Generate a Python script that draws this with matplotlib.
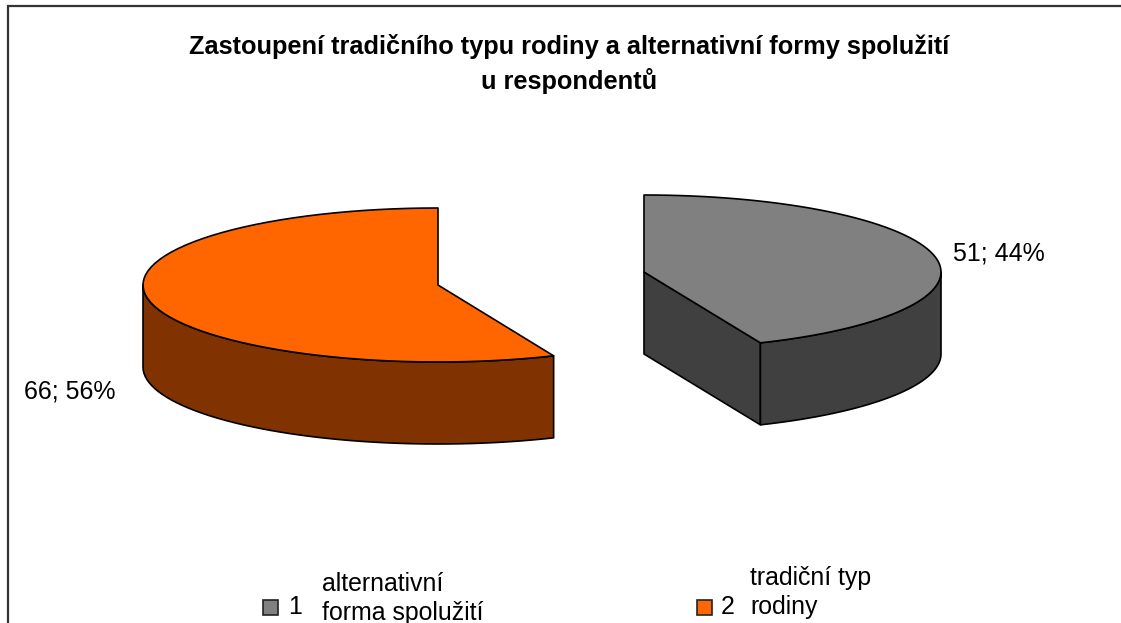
import numpy as np
from matplotlib import pyplot as plt
from matplotlib.patches import Polygon, Rectangle

plt.rc("font", family=["Liberation Sans", "DejaVu Sans"])

title = "Zastoupení tradičního typu rodiny a alternativní formy spolužití\nu respondentů"
values = [51, 66]
percents = [44, 56]
codes = ["1", "2"]
names = ["alternativní\nforma spolužití", "tradiční typ\nrodiny"]
top_colors = ["#808080", "#ff6600"]
side_colors = ["#404040", "#803300"]

RY, DEPTH = 77, 82
radii = [297, 295]
centers = [(644, 272), (438, 285)]


def rim(cx, cy, rx, a0, a1, n=70):
    # angles clockwise from 12 o'clock, squashed onto the ellipse
    a = np.radians(np.linspace(a0, a1, n))
    return np.column_stack([cx + rx * np.sin(a), cy - RY * np.cos(a)])


fig = plt.figure(figsize=(11.21, 6.23), dpi=100)
ax = fig.add_axes([0, 0, 1, 1])
ax.set_xlim(0, 1121)
ax.set_ylim(623, 0)
ax.axis("off")

# only top and left of the chart frame are inside the crop
ax.plot([8, 8, 1121], [623, 6, 6], color="#333333", lw=1.6, solid_joinstyle="miter")

angles = np.cumsum([0] + values) / sum(values) * 360
down = np.array([0, DEPTH])
edge = dict(ec="k", lw=1.2, joinstyle="round")

# grey slice
cx, cy = centers[0]
rx = radii[0]
arc = rim(cx, cy, rx, angles[0], angles[1])
a_side = rim(cx, cy, rx, 90, angles[1], 40)
apex = np.array([cx, cy])
tip = arc[-1]
ax.add_patch(Polygon([apex, tip, tip + down, apex + down], fc=side_colors[0], **edge))
ax.add_patch(Polygon(np.vstack([a_side, (a_side + down)[::-1]]), fc=side_colors[0], **edge))
ax.add_patch(Polygon(np.vstack([apex, arc]), fc=top_colors[0], **edge))

# orange slice
cx, cy = centers[1]
rx = radii[1]
arc = rim(cx, cy, rx, angles[1], angles[2])
a_side = rim(cx, cy, rx, angles[1], 270, 50)
ax.add_patch(Polygon(np.vstack([a_side, (a_side + down)[::-1]]), fc=side_colors[1], **edge))
ax.add_patch(Polygon(np.vstack([[cx, cy], arc]), fc=top_colors[1], **edge))

ax.text(569, 89, title, ha="center", va="baseline", fontsize=18.3, fontweight="bold", linespacing=1.42)
ax.text(953, 260, f"{values[0]}; {percents[0]}%", ha="left", va="baseline", fontsize=18)
ax.text(24, 398, f"{values[1]}; {percents[1]}%", ha="left", va="baseline", fontsize=18)

# legend
swatch_x = [263, 697]
code_x = [288, 721]
name_x = [322, 750]
name_y = [620, 614]
for i in range(len(codes)):
    ax.add_patch(Rectangle((swatch_x[i], 600), 15, 15, fc=top_colors[i], ec="#222222", lw=1.2))
    ax.text(code_x[i], 614, codes[i], ha="left", va="baseline", fontsize=18)
    ax.text(name_x[i], name_y[i], names[i], ha="left", va="baseline", fontsize=17.9, linespacing=1.25)

fig.savefig("out.png", dpi=100)
